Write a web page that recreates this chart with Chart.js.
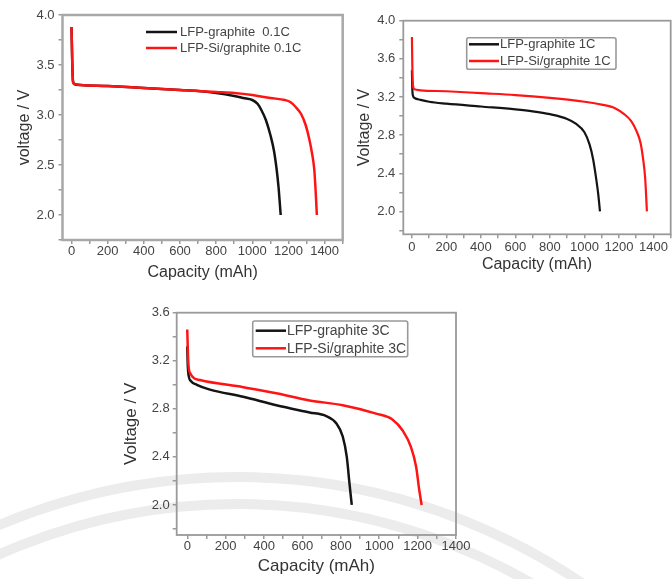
<!DOCTYPE html>
<html><head><meta charset="utf-8">
<script src="https://cdn.jsdelivr.net/npm/chart.js@4/dist/chart.umd.min.js"></script>
<style>
html,body{margin:0;padding:0;background:#fff;width:672px;height:579px;overflow:hidden;position:relative;font-family:Arial,"Liberation Sans",sans-serif}
canvas{position:absolute}
#wm{position:absolute;left:0;top:0}
</style></head><body>
<svg id="wm" width="672" height="579">
  <circle cx="237" cy="1090" r="613" fill="none" stroke="#ececec" stroke-width="10"/>
  <circle cx="237" cy="1090" r="586" fill="none" stroke="#ececec" stroke-width="10"/>
</svg>
<canvas id="k1" width="346" height="285" style="left:0;top:0"></canvas>
<canvas id="k2" width="327" height="280" style="left:345px;top:0"></canvas>
<canvas id="k3" width="370" height="289" style="left:110px;top:290px"></canvas>
<script>
// ---------- data ----------
const labels01 = ['LFP-graphite  0.1C', 'LFP-Si/graphite 0.1C'];
const cap01Black  = [0, 3, 8, 15, 50, 200, 400, 600, 700, 800, 900, 950, 1000, 1030, 1050, 1075, 1100, 1120, 1135, 1145, 1152, 1157];
const volt01Black = [3.88, 3.6, 3.34, 3.31, 3.30, 3.29, 3.27, 3.25, 3.24, 3.22, 3.19, 3.17, 3.15, 3.11, 3.05, 2.95, 2.80, 2.64, 2.45, 2.28, 2.12, 2.0];
const cap01Red    = [0, 3, 8, 15, 50, 200, 400, 600, 800, 900, 1000, 1100, 1180, 1210, 1240, 1270, 1295, 1315, 1330, 1343, 1350, 1357];
const volt01Red   = [3.88, 3.6, 3.33, 3.31, 3.30, 3.29, 3.27, 3.25, 3.23, 3.22, 3.20, 3.17, 3.15, 3.13, 3.08, 3.01, 2.90, 2.76, 2.62, 2.45, 2.25, 2.0];

const labels1 = ['LFP-graphite 1C', 'LFP-Si/graphite 1C'];
const cap1Black  = [0, 2, 5, 15, 50, 100, 200, 400, 600, 700, 800, 900, 950, 1000, 1030, 1050, 1065, 1080, 1090];
const volt1Black = [3.48, 3.30, 3.22, 3.19, 3.17, 3.15, 3.13, 3.10, 3.07, 3.05, 3.02, 2.97, 2.92, 2.83, 2.70, 2.55, 2.38, 2.18, 2.0];
const cap1Red    = [0, 3, 8, 15, 50, 200, 400, 600, 800, 1000, 1100, 1180, 1230, 1270, 1300, 1325, 1340, 1352, 1358, 1362];
const volt1Red   = [3.83, 3.45, 3.30, 3.28, 3.27, 3.26, 3.24, 3.22, 3.19, 3.15, 3.12, 3.08, 3.02, 2.95, 2.85, 2.72, 2.55, 2.35, 2.15, 2.0];

const labels3 = ['LFP-graphite 3C', 'LFP-Si/graphite 3C'];
const cap3Black  = [0, 3, 8, 20, 50, 118, 291, 464, 637, 724, 776, 810, 831, 845, 857];
const volt3Black = [3.32, 3.15, 3.07, 3.03, 3.00, 2.96, 2.90, 2.83, 2.77, 2.74, 2.68, 2.57, 2.40, 2.18, 2.0];
const cap3Red    = [0, 5, 14, 66, 291, 464, 637, 810, 984, 1070, 1122, 1166, 1192, 1209, 1221];
const volt3Red   = [3.46, 3.20, 3.10, 3.04, 2.98, 2.93, 2.87, 2.83, 2.76, 2.71, 2.62, 2.48, 2.32, 2.12, 2.0];

const xTickLabels = ['0', '200', '400', '600', '800', '1000', '1200', '1400'];

// ---------- helpers ----------
const zip = (xs, ys) => xs.map((x, i) => ({x: x, y: ys[i]}));
const TXT = '#444';
const AX = '#9a9a9a';

function framePlugin(color, width) {
  return {id: 'frame', beforeDatasetsDraw(chart) {
    const {ctx, chartArea: a} = chart;
    ctx.save(); ctx.strokeStyle = color; ctx.lineWidth = width;
    ctx.strokeRect(a.left, a.top, a.right - a.left, a.bottom - a.top);
    ctx.restore();
  }};
}
function legendPlugin(c) {
  return {id: 'lgd', afterDraw(chart) {
    const ctx = chart.ctx; ctx.save();
    if (c.box) {
      ctx.strokeStyle = '#999'; ctx.lineWidth = 1.6;
      ctx.beginPath(); ctx.roundRect(c.box[0], c.box[1], c.box[2], c.box[3], 2); ctx.stroke();
    }
    chart.data.datasets.forEach((ds, i) => {
      const y = c.rows[i];
      ctx.strokeStyle = ds.borderColor; ctx.lineWidth = c.lw;
      ctx.beginPath(); ctx.moveTo(c.x0, y); ctx.lineTo(c.x1, y); ctx.stroke();
      ctx.fillStyle = TXT; ctx.font = c.font; ctx.textBaseline = 'middle'; ctx.textAlign = 'left';
      ctx.fillText(ds.label, c.tx, y + 0.5);
    });
    ctx.restore();
  }};
}
function xLabel(v) { return (v >= 0 && v % 200 === 0 && xTickLabels.includes(String(v))) ? String(v) : ''; }
function yLabelMaker(m) { return v => (Math.abs(v / m - Math.round(v / m)) < 1e-6) ? v.toFixed(1) : ''; }

function makeChart(id, o) {
  return new Chart(document.getElementById(id), {
    type: 'line',
    data: {datasets: [
      {label: o.labels[0], data: zip(o.bx, o.by), borderColor: '#141414', borderWidth: o.lw, pointRadius: 0, cubicInterpolationMode: 'monotone', fill: false, order: 1},
      {label: o.labels[1], data: zip(o.rx, o.ry), borderColor: '#ff1414', borderWidth: o.lw, pointRadius: 0, cubicInterpolationMode: 'monotone', fill: false, order: 0}
    ]},
    options: {
      responsive: false, animation: false, devicePixelRatio: 1,
      layout: {padding: o.pad},
      plugins: {legend: {display: false}, tooltip: {enabled: false}},
      scales: {
        x: {type: 'linear', min: o.xmin, max: o.xmax,
          border: {display: false},
          grid: {drawOnChartArea: false, drawTicks: true, tickLength: 4, color: AX, lineWidth: 1.5},
          ticks: {stepSize: 100, includeBounds: false, autoSkip: false, maxRotation: 0, padding: o.xpad,
                  font: {family: 'Arial', size: 13}, color: TXT, callback: xLabel},
          title: {display: true, text: 'Capacity (mAh)', color: '#333', font: {family: 'Arial', size: o.tfs},
                  padding: {top: 0, bottom: o.xtpad}},
          afterFit: s => { s.height = o.xh; }
        },
        y: {type: 'linear', min: o.ymin, max: o.ymax,
          border: {display: false},
          grid: {drawOnChartArea: false, drawTicks: true, tickLength: 4, color: AX, lineWidth: 1.5},
          ticks: {stepSize: o.ystep, includeBounds: false, autoSkip: false, padding: o.ypad,
                  font: {family: 'Arial', size: 13}, color: TXT, callback: yLabelMaker(o.ymajor)},
          title: {display: true, text: o.ytitle, color: '#333', font: {family: 'Arial', size: o.tfs},
                  padding: {top: o.ytpad, bottom: 0}},
          afterFit: s => { s.width = o.yw; }
        }
      }
    },
    plugins: [framePlugin(o.fc, o.fw), legendPlugin(o.legend)]
  });
}

makeChart('k1', {
  labels: labels01, bx: cap01Black, by: volt01Black, rx: cap01Red, ry: volt01Red, lw: 2.5,
  pad: {top: 15, right: 3.3, left: 0, bottom: 0},
  xmin: -50, xmax: 1500, ymin: 1.75, ymax: 4.0, ystep: 0.25, ymajor: 0.5,
  xh: 45, yw: 62.5, xpad: 0, ypad: 4, tfs: 16, xtpad: 2.4, ytpad: 15.4, ytitle: 'voltage / V',
  fc: '#a8a8a8', fw: 2.5,
  legend: {x0: 146, x1: 177, tx: 180, rows: [32, 48], lw: 2.5, font: '13px Arial'}
});
makeChart('k2', {
  labels: labels1, bx: cap1Black, by: volt1Black, rx: cap1Red, ry: volt1Red, lw: 2.2,
  pad: {top: 20.7, right: 1.3, left: 0, bottom: 0},
  xmin: -50, xmax: 1500, ymin: 1.76, ymax: 4.0, ystep: 0.2, ymajor: 0.4,
  xh: 45.7, yw: 58.3, xpad: 1, ypad: 4, tfs: 16, xtpad: 5.4, ytpad: 10.4, ytitle: 'Voltage / V',
  fc: '#9a9a9a', fw: 1.8,
  legend: {box: [121.7, 37.7, 149.3, 31.6], x0: 124, x1: 154, tx: 155, rows: [44.3, 61], lw: 2.5, font: '13px Arial'}
});
makeChart('k3', {
  labels: labels3, bx: cap3Black, by: volt3Black, rx: cap3Red, ry: volt3Red, lw: 2.5,
  pad: {top: 22.7, right: 24, left: 0, bottom: 0},
  xmin: -55, xmax: 1400, ymin: 1.75, ymax: 3.6, ystep: 0.2, ymajor: 0.4,
  xh: 44, yw: 66.7, xpad: 0, ypad: 3, tfs: 17, xtpad: 2, ytpad: 11.5, ytitle: 'Voltage / V',
  fc: '#9a9a9a', fw: 1.8,
  legend: {box: [142.7, 31, 155, 35.7], x0: 145.7, x1: 176, tx: 177, rows: [40.7, 58.3], lw: 2.5, font: '14px Arial'}
});
</script>
</body></html>
